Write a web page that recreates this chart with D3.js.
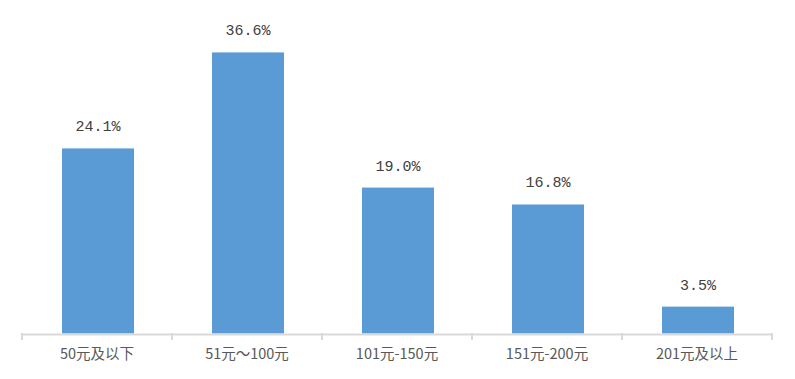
<!DOCTYPE html>
<html><head><meta charset="utf-8">
<script src="https://cdn.jsdelivr.net/npm/d3@7"></script>
<style>body{margin:0;background:#fff;}svg{display:block;}</style>
</head><body>
<svg id="c" width="795" height="379"></svg>
<script>
const categories = ["50元及以下","51元～100元","101元-150元","151元-200元","201元及以上"];
const values = [24.1, 36.6, 19.0, 16.8, 3.5];
const valueLabels = ["24.1%","36.6%","19.0%","16.8%","3.5%"];

const svg = d3.select("#c");
const x = d3.scaleBand().domain(categories).range([23, 773]).paddingInner(0.52).paddingOuter(0.26);
const y = d3.scaleLinear().domain([0, 40]).range([333.5, 26.3]);

svg.selectAll("rect.bar").data(values).join("rect")
  .attr("class","bar")
  .attr("x",(d,i)=>x(categories[i]))
  .attr("width",x.bandwidth())
  .attr("y",d=>y(d))
  .attr("height",d=>y(0)-y(d))
  .attr("fill","#5b9bd5");

const xb = d3.scaleBand().domain(categories).range([22,772]);
const axis = d3.axisBottom(xb).tickSize(0).tickPadding(15);
const g = svg.append("g").attr("transform","translate(0,334)").call(axis);
g.select(".domain").attr("stroke","#d9d9d9").attr("stroke-width",2);
g.selectAll("text").attr("fill","#595959").style("font-family","'Noto Sans CJK SC', sans-serif").style("font-size","14.5px");
const bounds = categories.map(c=>xb(c)).concat([772]);
svg.selectAll("line.bt").data(bounds).join("line").attr("class","bt")
  .attr("x1",d=>d).attr("x2",d=>d).attr("y1",333).attr("y2",340)
  .attr("stroke","#d9d9d9").attr("stroke-width",2);

svg.selectAll("text.vl").data(values).join("text").attr("class","vl")
  .attr("x",(d,i)=>x(categories[i])+x.bandwidth()/2)
  .attr("y",d=>y(d)-17)
  .attr("text-anchor","middle")
  .attr("fill","#404040")
  .style("font-family","'Liberation Mono', monospace")
  .style("font-size","15px")
  .text((d,i)=>valueLabels[i]);
</script>
</body></html>
